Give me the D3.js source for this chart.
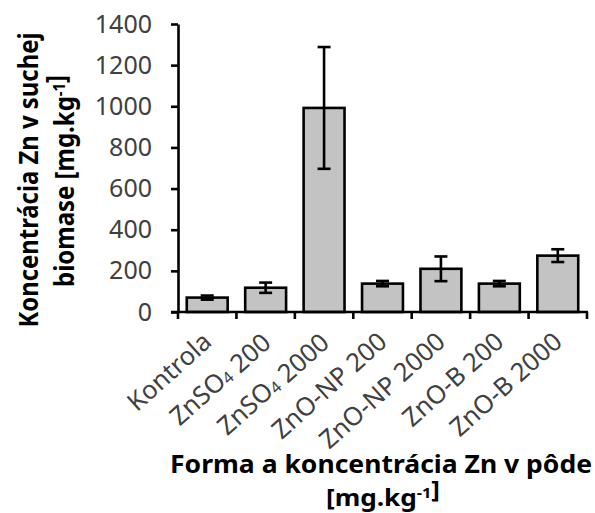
<!DOCTYPE html>
<html><head><meta charset="utf-8">
<script src="https://cdn.jsdelivr.net/npm/d3@7/dist/d3.min.js"></script>
<style>body{margin:0;background:#fff}svg{display:block}</style>
</head><body>
<svg id="chart" width="595" height="513"></svg>
<script>
const categories = ["Kontrola","ZnSO₄ 200","ZnSO₄ 2000","ZnO-NP 200","ZnO-NP 2000","ZnO-B 200","ZnO-B 2000"];
const values = [70, 118, 992, 138, 210, 138, 274];
const errors = [10, 25, 296, 13, 60, 13, 31];
const yTicks = [0, 200, 400, 600, 800, 1000, 1200, 1400];
const yTitleLines = ["Koncentrácia Zn v suchej", "biomase [mg.kg⁻¹]"];
const xTitleLines = ["Forma a koncentrácia Zn v pôde", "[mg.kg⁻¹]"];

const svg = d3.select("#chart");
const FONT = "'Noto Sans', 'Open Sans', sans-serif";
const L = 178, R = 587, T = 24, B = 312;

const x = d3.scaleBand().domain(categories).range([L, R]).paddingInner(0.3).paddingOuter(0.15);
const y = d3.scaleLinear().domain([0, 1400]).range([B, T]);

// rich text helper: handles subscript ₄ and superscript ⁻¹
function rich(sel, str, size) {
  const re = /(₄|⁻¹)/;
  str.split(re).filter(s => s.length).forEach(part => {
    if (part === "₄") {
      sel.append("tspan").attr("font-size", size * 0.62).attr("dy", "0.08em").text("4");
      sel.append("tspan").attr("dy", "-0.08em").text("");
    } else if (part === "⁻¹") {
      sel.append("tspan").attr("font-size", size * 0.62).attr("dy", "-0.55em").text("-1");
      sel.append("tspan").attr("font-size", size).attr("dy", "0.34em").text("");
    } else {
      sel.append("tspan").text(part);
    }
  });
}

// bars
svg.append("g").selectAll("rect").data(categories).join("rect")
  .attr("x", d => x(d))
  .attr("y", (d, i) => y(values[i]))
  .attr("width", x.bandwidth())
  .attr("height", (d, i) => y(0) - y(values[i]))
  .attr("fill", "#c3c3c3")
  .attr("stroke", "#000")
  .attr("stroke-width", 2.6);

// error bars
const eb = svg.append("g").attr("stroke", "#000").attr("stroke-width", 2.6);
categories.forEach((c, i) => {
  const cx = x(c) + x.bandwidth() / 2;
  const hi = y(values[i] + errors[i]), lo = y(values[i] - errors[i]);
  eb.append("line").attr("x1", cx).attr("x2", cx).attr("y1", hi).attr("y2", lo);
  eb.append("line").attr("x1", cx - 6.5).attr("x2", cx + 6.5).attr("y1", hi).attr("y2", hi);
  eb.append("line").attr("x1", cx - 6.5).attr("x2", cx + 6.5).attr("y1", lo).attr("y2", lo);
});

// y axis
const yAxis = svg.append("g").attr("transform", `translate(${L},0)`)
  .call(d3.axisLeft(y).tickValues(yTicks).tickSize(7).tickSizeOuter(0).tickPadding(19).tickFormat(d3.format("d")));
yAxis.select(".domain").attr("stroke", "#000").attr("stroke-width", 2.6);
yAxis.selectAll(".tick line").attr("stroke", "#000").attr("stroke-width", 2.6);
yAxis.selectAll(".tick text").attr("font-family", FONT).attr("font-size", 25).attr("fill", "#404040");

// x axis (ticks at category boundaries)
const bounds = categories.map(c => x(c) - x.step() * x.paddingInner() / 2).concat([R]);
const xg = svg.append("g");
xg.append("line").attr("x1", L - 7).attr("x2", R + 1).attr("y1", B).attr("y2", B)
  .attr("stroke", "#000").attr("stroke-width", 2.6);
xg.selectAll("line.tk").data(bounds).join("line").attr("class", "tk")
  .attr("x1", d => d).attr("x2", d => d).attr("y1", B).attr("y2", B + 7)
  .attr("stroke", "#000").attr("stroke-width", 2.6);

// x tick labels rotated
categories.forEach(c => {
  const cx = x(c) + x.bandwidth() / 2;
  const t = svg.append("text")
    .attr("transform", `translate(${cx + 6},${B + 32}) rotate(-42)`)
    .attr("text-anchor", "end")
    .attr("font-family", FONT).attr("font-size", 25.5).attr("fill", "#404040");
  rich(t, c, 25.5);
});

// y title
const yt1 = svg.append("text")
  .attr("transform", `translate(38,180) rotate(-90)`)
  .attr("text-anchor", "middle").attr("font-family", FONT).attr("font-weight", "bold")
  .attr("font-size", 27).attr("fill", "#000").attr("textLength", 295).attr("lengthAdjust", "spacingAndGlyphs");
rich(yt1, yTitleLines[0], 27);
const yt2 = svg.append("text")
  .attr("transform", `translate(74,181) rotate(-90)`)
  .attr("text-anchor", "middle").attr("font-family", FONT).attr("font-weight", "bold")
  .attr("font-size", 27).attr("fill", "#000").attr("textLength", 212).attr("lengthAdjust", "spacingAndGlyphs");
rich(yt2, yTitleLines[1], 27);

// x title
const xt1 = svg.append("text").attr("x", 381).attr("y", 473)
  .attr("text-anchor", "middle").attr("font-family", FONT).attr("font-weight", "bold")
  .attr("font-size", 25).attr("fill", "#000").attr("textLength", 422).attr("lengthAdjust", "spacingAndGlyphs");
rich(xt1, xTitleLines[0], 25);
const xt2 = svg.append("text").attr("x", 383).attr("y", 506)
  .attr("text-anchor", "middle").attr("font-family", FONT).attr("font-weight", "bold")
  .attr("font-size", 24).attr("fill", "#000").attr("textLength", 114).attr("lengthAdjust", "spacingAndGlyphs");
rich(xt2, xTitleLines[1], 24);
</script>
</body></html>
